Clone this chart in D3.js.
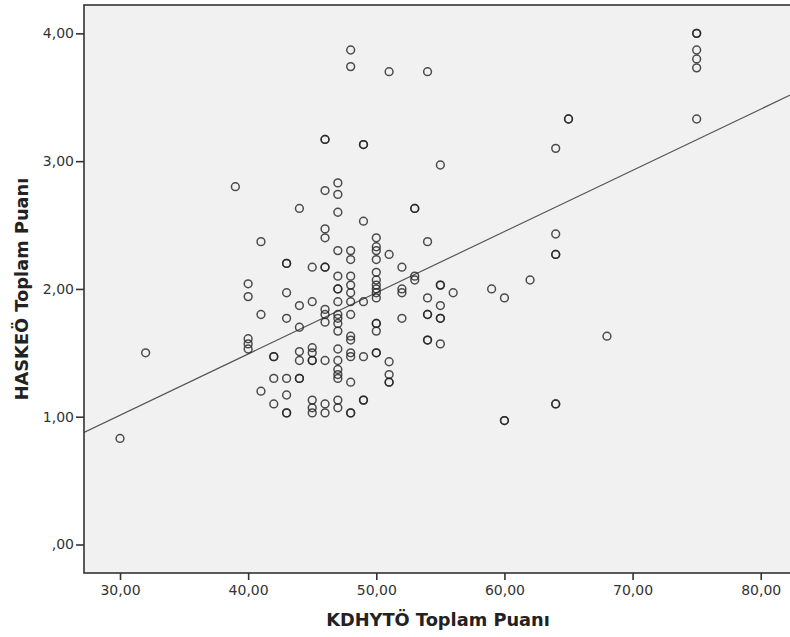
<!DOCTYPE html>
<html><head><meta charset="utf-8">
<script src="https://cdn.jsdelivr.net/npm/d3@7"></script>
<style>body{margin:0;background:#fff}text{font-family:"DejaVu Sans",sans-serif}</style>
</head><body>
<svg id="chart" width="790" height="637"></svg>
<script>
// KDHYTÖ score columns and the HASKEÖ values plotted at each
const kdhytoScores = [30, 32, 39, 40, 41, 42, 43, 44, 45, 46, 47, 48, 49, 50, 51, 52, 53, 54, 55, 56, 59, 60, 62, 64, 65, 68, 75];
const haskeoScores = [
  [0.83],
  [1.50],
  [2.80],
  [2.04, 1.94, 1.61, 1.57, 1.53],
  [2.37, 1.80, 1.20],
  [1.47, 1.47, 1.30, 1.10],
  [2.20, 2.20, 1.97, 1.77, 1.30, 1.17, 1.03, 1.03],
  [2.63, 1.87, 1.70, 1.51, 1.44, 1.30, 1.30],
  [2.17, 1.90, 1.54, 1.50, 1.44, 1.44, 1.13, 1.07, 1.03],
  [3.17, 3.17, 2.77, 2.47, 2.40, 2.17, 2.17, 1.84, 1.80, 1.74, 1.44, 1.10, 1.03],
  [2.83, 2.74, 2.60, 2.30, 2.10, 2.00, 2.00, 1.90, 1.80, 1.77, 1.73, 1.67, 1.53, 1.44, 1.37, 1.33, 1.30, 1.13, 1.07],
  [3.87, 3.74, 2.30, 2.23, 2.10, 2.03, 1.97, 1.90, 1.80, 1.63, 1.60, 1.50, 1.47, 1.27, 1.03, 1.03],
  [3.13, 3.13, 2.53, 1.90, 1.47, 1.13, 1.13],
  [2.40, 2.33, 2.30, 2.23, 2.13, 2.07, 2.03, 2.00, 1.97, 1.93, 1.73, 1.73, 1.67, 1.50, 1.50],
  [3.70, 2.27, 1.43, 1.33, 1.27, 1.27],
  [2.17, 2.00, 1.97, 1.77],
  [2.63, 2.63, 2.10, 2.07],
  [3.70, 2.37, 1.93, 1.80, 1.80, 1.60, 1.60],
  [2.97, 2.03, 2.03, 1.87, 1.77, 1.77, 1.57],
  [1.97],
  [2.00],
  [1.93, 0.97, 0.97],
  [2.07],
  [3.10, 2.43, 2.27, 2.27, 1.10, 1.10],
  [3.33, 3.33],
  [1.63],
  [4.00, 4.00, 3.87, 3.80, 3.73, 3.33]
];
const xTicks = [30, 40, 50, 60, 70, 80];
const yTicks = [0, 1, 2, 3, 4];
const xDomain = [27.19, 82.44];
const yDomain = [-0.223, 4.222];
// fit line
const fitIntercept = -0.425;
const fitSlope = 0.0479;
const xTitle = "KDHYTÖ Toplam Puanı";
const yTitle = "HASKEÖ Toplam Puanı";

const points = [];
kdhytoScores.forEach((k, i) => haskeoScores[i].forEach(h => points.push({x: k, y: h})));

const L = 84, R = 792, T = 5, B = 573;
const svg = d3.select("#chart");
const x = d3.scaleLinear().domain(xDomain).range([L, R]);
const y = d3.scaleLinear().domain(yDomain).range([B, T]);
const fmt = d => d3.format(".2f")(d).replace(".", ",").replace(/^0,/, ",");

svg.append("rect").attr("x", L).attr("y", T).attr("width", R - L).attr("height", B - T)
  .attr("fill", "#f1f1f1");

svg.append("defs").append("clipPath").attr("id", "clip")
  .append("rect").attr("x", L).attr("y", T).attr("width", R - L).attr("height", B - T);

const g = svg.append("g").attr("clip-path", "url(#clip)");
g.append("line")
  .attr("x1", x(xDomain[0])).attr("y1", y(fitIntercept + fitSlope * xDomain[0]))
  .attr("x2", x(xDomain[1])).attr("y2", y(fitIntercept + fitSlope * xDomain[1]))
  .attr("stroke", "#555").attr("stroke-width", 1.2);

g.selectAll("circle").data(points).join("circle")
  .attr("cx", d => x(d.x)).attr("cy", d => y(d.y)).attr("r", 3.9)
  .attr("fill", "none").attr("stroke", "#222").attr("stroke-opacity", 0.8).attr("stroke-width", 1.5);

svg.append("rect").attr("x", L).attr("y", T).attr("width", R - L).attr("height", B - T)
  .attr("fill", "none").attr("stroke", "#333").attr("stroke-width", 1.6);

const xa = svg.append("g").attr("transform", `translate(0,${B})`)
  .call(d3.axisBottom(x).tickValues(xTicks).tickFormat(fmt).tickSize(7).tickPadding(5));
const ya = svg.append("g").attr("transform", `translate(${L},0)`)
  .call(d3.axisLeft(y).tickValues(yTicks).tickFormat(fmt).tickSize(8).tickPadding(2));
[xa, ya].forEach(a => {
  a.select(".domain").remove();
  a.selectAll(".tick line").attr("stroke", "#333").attr("stroke-width", 1.6);
  a.selectAll(".tick text").attr("fill", "#333").style("font-size", "14px").style("font-family", "DejaVu Sans");
});

svg.append("text").attr("x", (L + R) / 2).attr("y", 626).attr("text-anchor", "middle")
  .style("font-size", "17.8px").style("font-weight", "bold").attr("fill", "#222").text(xTitle);
svg.append("text").attr("transform", `translate(28,${(T + B) / 2}) rotate(-90)`).attr("text-anchor", "middle")
  .style("font-size", "17.8px").style("font-weight", "bold").attr("fill", "#222").text(yTitle);
</script>
</body></html>
